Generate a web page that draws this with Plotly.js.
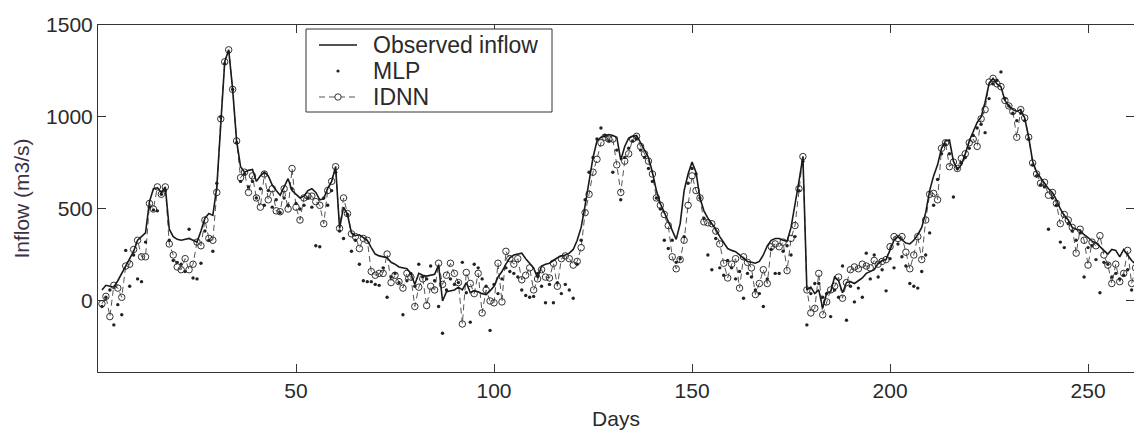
<!DOCTYPE html>
<html>
<head>
<meta charset="utf-8">
<script src="https://cdn.plot.ly/plotly-3.0.1.min.js"></script>
<style>
html,body{margin:0;padding:0;background:#fff;}
#chart{width:1134px;height:431px;}
</style>
</head>
<body>
<div id="chart"></div>
<script>
// Observed inflow (m3/s), days 1..262
const observed = [
60,85,80,75,110,150,190,230,270,330,
350,370,540,610,615,590,620,390,350,335,
330,335,340,330,320,380,450,475,465,620,
980,1300,1365,1150,870,730,700,710,715,650,
680,700,680,630,600,575,620,665,600,580,
560,570,600,610,590,550,555,612,650,730,
395,510,470,370,355,360,345,330,290,255,
245,240,235,210,200,185,180,175,150,90,
150,140,135,140,145,195,0,50,55,60,
75,60,100,45,55,50,40,35,55,80,
130,160,200,235,250,255,260,230,205,180,
125,190,200,205,220,235,245,250,260,280,
330,400,520,660,780,870,890,895,905,900,
890,765,840,885,895,900,860,820,780,700,
600,530,480,430,380,335,420,600,690,755,
700,560,490,450,420,390,350,320,285,275,
268,250,230,215,210,205,215,250,300,330,
340,340,330,325,400,520,650,785,60,75,
40,60,-40,45,50,130,110,45,100,105,
95,110,125,150,160,170,205,220,225,280,
330,350,335,315,310,330,360,400,480,600,
680,740,830,870,875,760,715,740,800,870,
920,970,1000,1080,1180,1210,1180,1165,1090,1060,
1040,1030,1040,995,890,760,700,670,645,610,
590,550,500,465,440,400,390,385,360,345,
325,315,295,275,255,280,275,240,280,250,
220,200
];
// MLP forecasts
const mlp = [
-30,20,60,-130,-20,-75,275,80,250,120,
105,320,510,495,490,580,600,330,220,210,
200,160,390,125,120,205,380,330,270,640,
1000,1290,1350,1150,860,650,690,620,650,560,
610,520,600,510,550,480,560,520,610,530,
500,520,560,510,300,295,560,520,600,700,
380,340,470,270,330,200,110,105,105,90,
85,180,20,130,150,100,-75,110,150,80,
200,130,120,190,110,-30,-175,60,120,90,
100,210,45,-115,200,180,120,80,-160,90,
40,120,180,160,150,130,60,30,20,25,
150,80,-10,90,-10,100,40,90,60,15,
200,330,550,700,780,880,940,900,870,700,
820,550,780,830,870,880,820,780,720,650,
560,500,330,285,330,210,230,350,640,720,
690,560,450,250,170,340,180,140,220,180,
120,160,15,150,130,60,40,-30,120,280,
150,150,270,300,250,350,600,760,-130,40,
95,95,20,40,-85,60,20,190,-105,80,
-5,70,20,260,120,250,130,170,55,230,
180,310,240,190,95,80,70,160,250,370,
520,660,800,850,800,565,720,750,780,830,
900,940,960,915,1100,1180,1200,1245,1100,1060,
1020,980,1020,980,880,740,680,630,620,390,
560,520,320,290,420,380,330,370,130,290,
300,225,45,210,200,130,150,120,140,170,
60,80
];
// IDNN forecasts
const idnn = [
-15,25,-85,85,70,20,190,200,280,330,
240,240,530,500,620,580,620,310,250,185,
170,230,170,200,320,300,440,340,330,590,
990,1300,1365,1150,870,670,700,590,680,560,
510,690,550,610,490,485,610,500,720,510,
440,560,570,570,540,520,420,600,650,730,
395,560,475,365,350,285,340,330,160,140,
150,150,255,100,140,105,70,150,130,-30,
75,120,-25,80,60,205,90,140,205,150,
100,-125,155,95,40,150,-65,60,0,-10,
205,-5,270,230,200,230,115,140,180,60,
120,170,130,125,205,80,230,245,230,195,
215,290,480,580,700,770,860,890,880,880,
740,590,760,800,880,895,840,800,760,690,
560,520,470,410,240,175,225,330,520,680,
600,560,430,425,420,380,310,205,125,200,
230,70,240,210,180,35,95,170,95,295,
310,295,320,165,340,410,610,785,60,-65,
-40,150,-75,-5,60,80,130,15,100,170,
185,175,200,190,180,220,200,215,225,295,
350,340,350,265,175,250,350,225,440,580,
585,550,830,860,730,755,720,775,800,860,
880,840,990,1040,1190,1210,1180,1165,1090,1060,
1030,890,1040,995,890,750,690,640,645,575,
590,530,420,470,440,400,260,390,330,195,
320,300,355,250,195,95,200,105,150,275,
95,180
];
const seriesNames = ['Observed inflow', 'MLP', 'IDNN'];
const days = observed.map((_, i) => i + 1);
const yTicks = [0, 500, 1000, 1500];
const xTicks = [50, 100, 150, 200, 250];

const fontFam = '"Liberation Sans", Arial, sans-serif';
const txt = '#2a2a2a';

const traces = [
  {
    x: days, y: idnn, name: seriesNames[2], type: 'scatter', mode: 'lines+markers',
    line: {color: '#555', width: 1, dash: '6px,4px'},
    marker: {symbol: 'circle-open', size: 6.5, color: '#333', line: {width: 1, color: '#333'}}
  },
  {
    x: days, y: mlp, name: seriesNames[1], type: 'scatter', mode: 'markers',
    marker: {symbol: 'circle', size: 3.4, color: '#222'}
  },
  {
    x: days, y: observed, name: seriesNames[0], type: 'scatter', mode: 'lines',
    line: {color: '#1a1a1a', width: 1.6}
  }
];

// ---- manual legend (MATLAB-style box) ----
const W = 1134, H = 431, ML = 98, MR = 0, MT = 25, MB = 59;
const PW = W - ML - MR, PH = H - MT - MB;
const px = x => (x - ML) / PW;
const py = y => (H - MB - y) / PH;

const shapes = [
  {type: 'rect', xref: 'paper', yref: 'paper', x0: px(306), x1: px(552), y0: py(29), y1: py(112),
   fillcolor: '#fff', line: {color: '#333', width: 1}, layer: 'above'},
  {type: 'line', xref: 'paper', yref: 'paper', x0: px(319), x1: px(357), y0: py(45), y1: py(45),
   line: {color: '#1a1a1a', width: 1.6}, layer: 'above'},
  {type: 'circle', xref: 'paper', yref: 'paper', xsizemode: 'pixel', ysizemode: 'pixel',
   xanchor: px(338), yanchor: py(71), x0: -1.6, x1: 1.6, y0: -1.6, y1: 1.6,
   fillcolor: '#222', line: {color: '#222', width: 0}, layer: 'above'},
  {type: 'line', xref: 'paper', yref: 'paper', x0: px(319), x1: px(357), y0: py(97), y1: py(97),
   line: {color: '#555', width: 1, dash: '6px,4px'}, layer: 'above'},
  {type: 'circle', xref: 'paper', yref: 'paper', xsizemode: 'pixel', ysizemode: 'pixel',
   xanchor: px(338), yanchor: py(97), x0: -3.2, x1: 3.2, y0: -3.2, y1: 3.2,
   fillcolor: '#fff', line: {color: '#333', width: 1}, layer: 'above'}
];
const legendY = [45, 71, 97];
const annotations = seriesNames.map((n, i) => ({
  text: n, xref: 'paper', yref: 'paper', x: px(371), y: py(legendY[i]),
  xanchor: 'left', yanchor: 'middle', showarrow: false,
  font: {family: fontFam, size: 23, color: txt}
}));

const layout = {
  width: W, height: H,
  margin: {l: ML, r: MR, t: MT, b: MB},
  paper_bgcolor: '#fff', plot_bgcolor: '#fff',
  font: {family: fontFam, size: 21, color: txt},
  showlegend: false,
  shapes: shapes,
  annotations: annotations,
  xaxis: {
    range: [0, 261.6], tickvals: xTicks, ticktext: xTicks.map(String),
    ticks: 'inside', ticklen: 8, tickcolor: '#333', tickwidth: 1,
    showline: true, linecolor: '#333', linewidth: 1, mirror: 'ticks',
    showgrid: false, zeroline: false,
    tickfont: {family: fontFam, size: 21, color: txt},
    title: {text: 'Days', font: {family: fontFam, size: 21, color: txt}, standoff: 10}
  },
  yaxis: {
    range: [-386, 1500], tickvals: yTicks, ticktext: yTicks.map(String),
    ticks: 'inside', ticklen: 8, tickcolor: '#333', tickwidth: 1,
    showline: true, linecolor: '#333', linewidth: 1, mirror: 'ticks',
    showgrid: false, zeroline: false,
    tickfont: {family: fontFam, size: 21, color: txt},
    title: {text: 'Inflow (m3/s)', font: {family: fontFam, size: 21, color: '#3a3048'}, standoff: 10}
  }
};

Plotly.newPlot('chart', traces, layout, {displayModeBar: false, staticPlot: true});
</script>
</body>
</html>
